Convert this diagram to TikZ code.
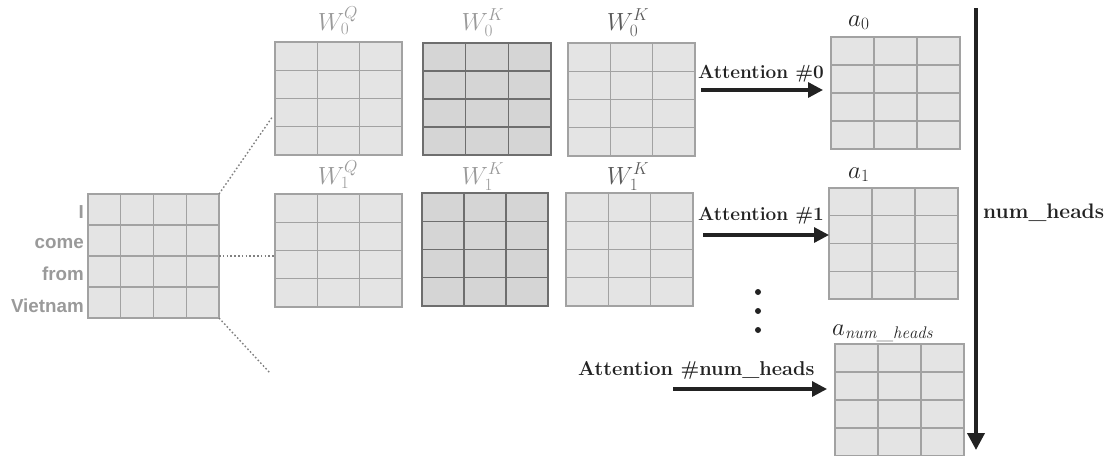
\documentclass[tikz,border=0pt]{standalone}
\usepackage{fontspec}
\newfontfamily\wordfont{Liberation Sans}[Scale=1]
\usetikzlibrary{calc,arrows.meta}

\definecolor{cellfill}{HTML}{E4E4E4}
\definecolor{cellline}{HTML}{A2A2A2}
\definecolor{keyfill}{HTML}{D5D5D5}
\definecolor{keyline}{HTML}{6E6E6E}
\definecolor{labelgray}{HTML}{9A9A9A}
\definecolor{labeldark}{HTML}{5A5A5A}
\definecolor{ink}{HTML}{222222}

\tikzset{
  % a matrix drawn as a grid of cells: #1 columns, 4 rows, lines in colour #2
  cells/.style 2 args={
    rectangle, inner sep=0pt, outer sep=0pt, line width=1.3pt, draw=#2,
    path picture={
      \foreach \c in {1,...,\numexpr#1-1\relax}
        \draw[draw=#2, line width=1.3pt]
          ($(path picture bounding box.north west)!\c/#1!(path picture bounding box.north east)$) --
          ($(path picture bounding box.south west)!\c/#1!(path picture bounding box.south east)$);
      \foreach \r in {1,2,3}
        \draw[draw=#2, line width=1.3pt]
          ($(path picture bounding box.north west)!\r/4!(path picture bounding box.south west)$) --
          ($(path picture bounding box.north east)!\r/4!(path picture bounding box.south east)$);
    }},
  lightmat/.style={cells={#1}{cellline}, fill=cellfill},
  darkmat/.style={cells={#1}{keyline}, fill=keyfill},
  wlabel/.style={anchor=base, inner sep=0pt, text=labelgray, font=\fontsize{25}{29}\selectfont},
  wlabeldark/.style={wlabel, text=labeldark},
  alabel/.style={anchor=base west, inner sep=0pt, text=ink, font=\fontsize{24}{28}\selectfont},
  word/.style={anchor=base east, inner sep=0pt, text=labelgray, font=\wordfont\bfseries\fontsize{18.8}{22}\selectfont},
  headtext/.style={anchor=base west, inner sep=0pt, text=ink, font=\bfseries\fontsize{#1}{25}\selectfont},
  headarrow/.style={draw=ink, line width=3.2pt, -{Triangle[length=15pt,width=15pt]}},
  fanout/.style={draw=gray, line width=1.4pt, dash pattern=on 1.6pt off 2.2pt},
  dotmark/.style={circle, fill=ink, inner sep=0pt, minimum size=6pt},
}

\begin{document}
\begin{tikzpicture}[x=1pt,y=-1pt]
\useasboundingbox (0,0) rectangle (1107,455);

% input sentence embedding
\node[lightmat=4, minimum width=131pt, minimum height=124pt] (in) at (153.5,256) {};
\node[word] (w1) at (84,218) {I};
\node[word] (w2) at (84,248) {come};
\node[word] (w3) at (84,280) {from};
\node[word] (w4) at (84,312) {Vietnam};

% head 0 projections
\node[lightmat=3, minimum width=127pt, minimum height=113pt] (q0) at (338.5,98.5) {};
\node[darkmat=3,  minimum width=128pt, minimum height=112pt] (k0) at (487,99) {};
\node[lightmat=3, minimum width=127pt, minimum height=113pt] (v0) at (631.5,99.5) {};
\node[wlabel]     (lq0) at (338,30) {$W_0^Q$};
\node[wlabel]     (lk0) at (483,30) {$W_0^K$};
\node[wlabeldark] (lv0) at (628,30) {$W_0^K$};

% head 1 projections
\node[lightmat=3, minimum width=127pt, minimum height=113pt] (q1) at (338.5,250.5) {};
\node[darkmat=3,  minimum width=126pt, minimum height=113pt] (k1) at (485,249.5) {};
\node[lightmat=3, minimum width=127pt, minimum height=113pt] (v1) at (629.5,249.5) {};
\node[wlabel]     (lq1) at (338,184) {$W_1^Q$};
\node[wlabel]     (lk1) at (483,184) {$W_1^K$};
\node[wlabeldark] (lv1) at (628,184) {$W_1^K$};

% fan-out from the input
\coordinate (fanup) at (273,116);
\coordinate (fandown) at (270,373);
\draw[fanout] (in.north east) -- (fanup);
\draw[fanout] (in.east) -- (in.east -| q1.west);
\draw[fanout] (in.south east) -- (fandown);

% attention outputs
\node[lightmat=3, minimum width=129pt, minimum height=112pt] (a0) at (895.5,93) {};
\node[lightmat=3, minimum width=129pt, minimum height=111pt] (a1) at (893.5,243.5) {};
\node[lightmat=3, minimum width=129pt, minimum height=112pt] (an) at (899.5,400) {};
\node[alabel] (la0) at (848,26) {$a_0$};
\node[alabel] (la1) at (848,178) {$a_1$};
\node[alabel] (lan) at (832,335) {$a_{\mathit{num\_heads}}$};

% attention heads
\node[headtext=19] (t0) at (698,78) {Attention \#0};
\node[headtext=19] (t1) at (698,220) {Attention \#1};
\node[headtext=20] (tn) at (578,375) {Attention \#num\_heads};
\coordinate (s0) at (701,90);
\coordinate (s1) at (703,235);
\coordinate (sn) at (673,389);
\draw[headarrow, shorten >=8pt] (s0) -- (s0 -| a0.west);
\draw[headarrow] (s1) -- (s1 -| a1.west);
\draw[headarrow, shorten >=8pt] (sn) -- (sn -| an.west);

% ellipsis between heads
\node[dotmark] (d1) at (758,292) {};
\node[dotmark] (d2) at (758,311) {};
\node[dotmark] (d3) at (758,330) {};

% stacking direction
\coordinate (vtop) at (976,8);
\coordinate (vbot) at (976,450);
\draw[draw=ink, line width=3.8pt, -{Triangle[length=17pt,width=17pt]}] (vtop) -- (vbot);
\node[headtext=21] (nh) at (983,218) {num\_heads};
\end{tikzpicture}
\end{document}
